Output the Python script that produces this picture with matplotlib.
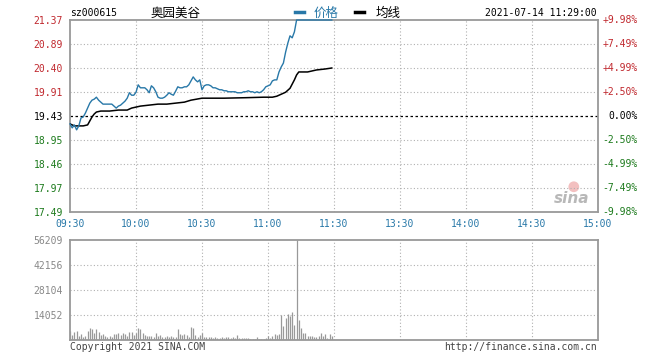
import matplotlib
matplotlib.use("Agg")
import matplotlib.pyplot as plt
from matplotlib.lines import Line2D
import numpy as np

# ---- data -------------------------------------------------------------
stock_code = "sz000615"
stock_name = "奥园美谷"
stamp = "2021-07-14 11:29:00"
prev_close = 19.43

# price per minute from 09:30 (index 0) to 11:29 (index 119)
price = [
    19.27, 19.19, 19.25, 19.15, 19.23, 19.39, 19.41, 19.49, 19.59, 19.69,
    19.75, 19.77, 19.81, 19.75, 19.71, 19.67, 19.67, 19.67, 19.67, 19.67,
    19.63, 19.59, 19.63, 19.65, 19.69, 19.73, 19.79, 19.90, 19.85, 19.85,
    19.91, 20.06, 20.00, 20.00, 20.00, 19.96, 19.90, 20.04, 20.00, 19.92,
    19.81, 19.79, 19.79, 19.81, 19.85, 19.90, 19.87, 19.85, 19.93, 20.02,
    20.00, 20.00, 20.02, 20.02, 20.06, 20.14, 20.22, 20.16, 20.12, 20.16,
    19.96, 20.04, 20.06, 20.06, 20.04, 20.00, 20.00, 19.98, 19.96, 19.96,
    19.94, 19.94, 19.92, 19.92, 19.92, 19.92, 19.90, 19.90, 19.90, 19.92,
    19.92, 19.94, 19.92, 19.92, 19.90, 19.92, 19.90, 19.92, 19.96, 20.02,
    20.04, 20.06, 20.14, 20.16, 20.16, 20.32, 20.42, 20.50, 20.72, 20.90,
    21.05, 21.01, 21.13, 21.37, 21.37, 21.37, 21.37, 21.37, 21.37, 21.37,
    21.37, 21.37, 21.37, 21.37, 21.37, 21.37, 21.37, 21.37, 21.37, 21.37,
]

# average price line, read at these minutes
avg_min = [0, 2, 4, 6, 8, 9, 10, 11, 12, 14, 18, 22, 26, 28, 32, 36, 40, 44,
           48, 52, 55, 60, 70, 80, 88, 92, 94, 96, 98, 100, 102, 103, 104,
           108, 112, 116, 119]
avg_val = [19.27, 19.23, 19.23, 19.23, 19.25, 19.33, 19.41, 19.47, 19.51,
           19.53, 19.53, 19.55, 19.55, 19.59, 19.63, 19.65, 19.67, 19.67,
           19.69, 19.71, 19.75, 19.79, 19.79, 19.80, 19.81, 19.81, 19.83,
           19.87, 19.91, 19.99, 20.16, 20.26, 20.32, 20.32, 20.36, 20.38,
           20.40]

# volume per minute
volume = [
    5200, 2800, 4700, 5100, 2200, 3200, 1900, 2200, 5200, 6600,
    6200, 3800, 6200, 4700, 2800, 3200, 2400, 1900, 2400, 1900,
    3400, 3200, 3800, 2800, 3800, 3200, 2400, 4700, 4700, 2800,
    4100, 6600, 6000, 3800, 2800, 2400, 2400, 2200, 1900, 4100,
    2400, 2800, 1500, 1900, 2200, 1900, 2200, 1500, 1900, 6000,
    3400, 2800, 3200, 2800, 1900, 7100, 6600, 2800, 1900, 2800,
    4100, 1900, 1500, 1900, 1500, 950, 1900, 1300, 950, 1900,
    950, 1500, 1900, 950, 1500, 950, 2800, 1300, 950, 1300,
    950, 950, 560, 560, 560, 1700, 560, 560, 560, 1300,
    2100, 1100, 2100, 3400, 3000, 3400, 14000, 7900, 12500, 14400,
    13500, 15700, 8400, 56209, 11200, 6900, 4100, 4100, 2400, 2400,
    2400, 1900, 1900, 2400, 4100, 2400, 3200, 950, 3200, 2200,
]

price_ticks = [21.37, 20.89, 20.40, 19.91, 19.43, 18.95, 18.46, 17.97, 17.49]
pct_labels = ["+9.98%", "+7.49%", "+4.99%", "+2.50%", "0.00%",
              "-2.50%", "-4.99%", "-7.49%", "-9.98%"]
vol_ticks = [14052, 28104, 42156, 56209]
time_labels = ["09:30", "10:00", "10:30", "11:00", "11:30",
               "13:30", "14:00", "14:30", "15:00"]

# ---- style ------------------------------------------------------------
RED = "#c0282e"
GREEN = "#1c7a1c"
BLUE = "#2878a8"
GRAY = "#999999"
GRID = "#b0b0b0"
MONO = "DejaVu Sans Mono"
CJK = ["Noto Sans CJK SC", "DejaVu Sans"]

W, H = 660, 360


def fx(x):
    return x / W


def fy(y):
    return 1 - y / H


def tick_color(t):
    if t > prev_close:
        return RED
    if t < prev_close:
        return GREEN
    return "black"


fig = plt.figure(figsize=(6.6, 3.6), dpi=100)
fig.patch.set_facecolor("white")

ax = fig.add_axes([fx(70), fy(212), fx(528), 192 / H])
axv = fig.add_axes([fx(70), fy(340), fx(528), 100 / H])

minutes = np.arange(len(price))
grid_x = [30, 60, 90, 120, 150, 180, 210]

# main price panel
ax.set_xlim(0, 240)
ax.set_ylim(price_ticks[-1], price_ticks[0])
for gx in grid_x:
    ax.axvline(gx, color=GRID, lw=0.8, ls=(0, (1, 2)), zorder=1)
for t in price_ticks[1:-1]:
    if t == prev_close:
        ax.axhline(t, color="black", lw=0.9, ls=(0, (2, 2)), zorder=2)
    else:
        ax.axhline(t, color=GRID, lw=0.8, ls=(0, (1, 2)), zorder=1)

ax.plot(minutes, price, color=BLUE, lw=1.0, zorder=4, clip_on=False)
ax.plot(avg_min, avg_val, color="black", lw=1.1, zorder=3)

ax.set_yticks(price_ticks)
ax.set_yticklabels([f"{t:.2f}" for t in price_ticks], fontfamily=MONO, fontsize=7)
for lab, t in zip(ax.get_yticklabels(), price_ticks):
    lab.set_color(tick_color(t))

# percentage labels on the right, right-aligned
ytr = ax.get_yaxis_transform()
for t, lab in zip(price_ticks, pct_labels):
    ax.text(1 + 40 / 528, t, lab, transform=ytr, ha="right", va="center",
            fontfamily=MONO, fontsize=7, color=tick_color(t))

ax.set_xticks(np.arange(0, 241, 30))
ax.set_xticklabels(time_labels, fontfamily=MONO, fontsize=7, color=BLUE)
ax.tick_params(length=0, pad=5)

for s in ax.spines.values():
    s.set_color(GRAY)
    s.set_linewidth(1.3)

# sina watermark
ax.text(236, 17.62, "sina", color="#b8b8b8", fontsize=11, fontstyle="italic",
        fontweight="bold", ha="right", va="bottom", zorder=0)
ax.scatter([229], [18.0], s=60, color="#f3c0c0", zorder=0, edgecolors="none")

# volume panel
axv.set_xlim(0, 240)
axv.set_ylim(0, vol_ticks[-1])
for gx in grid_x:
    axv.axvline(gx, color=GRID, lw=0.8, ls=(0, (1, 2)), zorder=1)
for t in vol_ticks[:-1]:
    axv.axhline(t, color=GRID, lw=0.8, ls=(0, (1, 2)), zorder=1)
axv.vlines(minutes, 0, volume, color=GRAY, lw=0.9, zorder=3)
axv.set_yticks(vol_ticks)
axv.set_yticklabels([str(v) for v in vol_ticks], fontfamily=MONO,
                    fontsize=7, color="#888888")
axv.set_xticks([])
axv.tick_params(length=0, pad=5)
for s in axv.spines.values():
    s.set_color(GRAY)
    s.set_linewidth(1.3)

# header
fig.text(fx(70), fy(13), stock_code, fontfamily=MONO, fontsize=7, va="center")
fig.text(fx(176), fy(13), stock_name, family=CJK, fontsize=9, ha="center", va="center")
fig.add_artist(Line2D([fx(295), fx(304)], [fy(12), fy(12)], color=BLUE, lw=2.5))
fig.text(fx(314), fy(13), "价格", family=CJK, fontsize=9, color=BLUE, va="center")
fig.add_artist(Line2D([fx(355), fx(364)], [fy(12), fy(12)], color="black", lw=2.5))
fig.text(fx(376), fy(13), "均线", family=CJK, fontsize=9, va="center")
fig.text(fx(597), fy(13), stamp, fontfamily=MONO, fontsize=7, ha="right", va="center")

# footer
fig.text(fx(70), fy(347), "Copyright 2021 SINA.COM", fontfamily=MONO,
         fontsize=7, color="#444444", va="center")
fig.text(fx(597), fy(347), "http://finance.sina.com.cn", fontfamily=MONO,
         fontsize=7, color="#444444", ha="right", va="center")

fig.savefig("out.png", dpi=100, facecolor="white")
